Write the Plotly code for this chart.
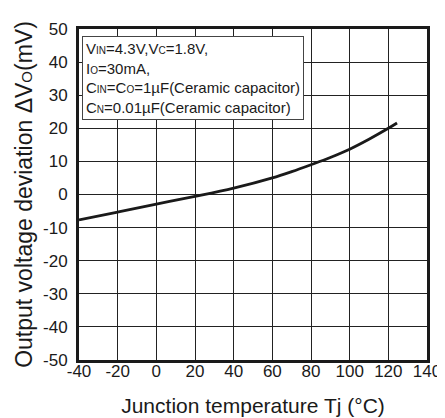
import plotly.graph_objects as go

# Data
temp_c = [-40, -20, 0, 20, 40, 60, 70, 80, 90, 100, 110, 120, 124.5]
dvo_mv = [-7.7, -5.3, -2.9, -0.6, 1.9, 5.0, 6.9, 9.0, 11.2, 13.7, 16.7, 20.0, 21.6]

x_ticks = [-40, -20, 0, 20, 40, 60, 80, 100, 120, 140]
y_ticks = [-50, -40, -30, -20, -10, 0, 10, 20, 30, 40, 50]

FONT = "Arial, Liberation Sans, sans-serif"
sub = lambda s, sz=10: f'<span style="font-size:{sz}px">{s}</span>'

fig = go.Figure()
fig.add_trace(go.Scatter(x=temp_c, y=dvo_mv, mode="lines",
                         line=dict(color="#1a1a1a", width=2.8, shape="spline", smoothing=1.0),
                         showlegend=False, hoverinfo="skip"))

note = (f"V{sub('IN')}=4.3V,V{sub('C')}=1.8V,<br>"
        f"I{sub('O')}=30mA,<br>"
        f"C{sub('IN')}=C{sub('O')}=1µF(Ceramic capacitor)<br>"
        f"C{sub('N')}=0.01µF(Ceramic capacitor)")
fig.add_annotation(x=0.009, y=0.978, xref="paper", yref="paper",
                   xanchor="left", yanchor="top", align="left",
                   text=note, showarrow=False,
                   font=dict(family=FONT, size=15, color="#1a1a1a"),
                   bgcolor="white", bordercolor="#444", borderwidth=1, borderpad=3)

axis_common = dict(showgrid=True, gridcolor="#222222", gridwidth=1.3,
                   showline=True, linecolor="#1a1a1a", linewidth=3, mirror=True,
                   zeroline=False, ticks="",
                   tickfont=dict(family=FONT, size=17, color="#1a1a1a"))

fig.update_xaxes(range=[-40, 140], tickvals=x_ticks, ticktext=[str(v) for v in x_ticks],
                 ticklabelstandoff=-6,
                 title=dict(text="Junction temperature Tj (°C)",
                            font=dict(family=FONT, size=21, color="#1a1a1a"), standoff=18),
                 **axis_common)
fig.update_yaxes(range=[-50, 50], tickvals=y_ticks, ticktext=[str(v) for v in y_ticks],
                 ticklabelstandoff=5,
                 title=dict(text=f"Output voltage deviation ΔV{sub('O', 15)}(mV)",
                            font=dict(family=FONT, size=23, color="#1a1a1a"), standoff=4),
                 **axis_common)

fig.update_layout(width=445, height=418, margin=dict(l=71, r=25, t=12, b=56),
                  plot_bgcolor="white", paper_bgcolor="white")

fig.write_html("out.html")
